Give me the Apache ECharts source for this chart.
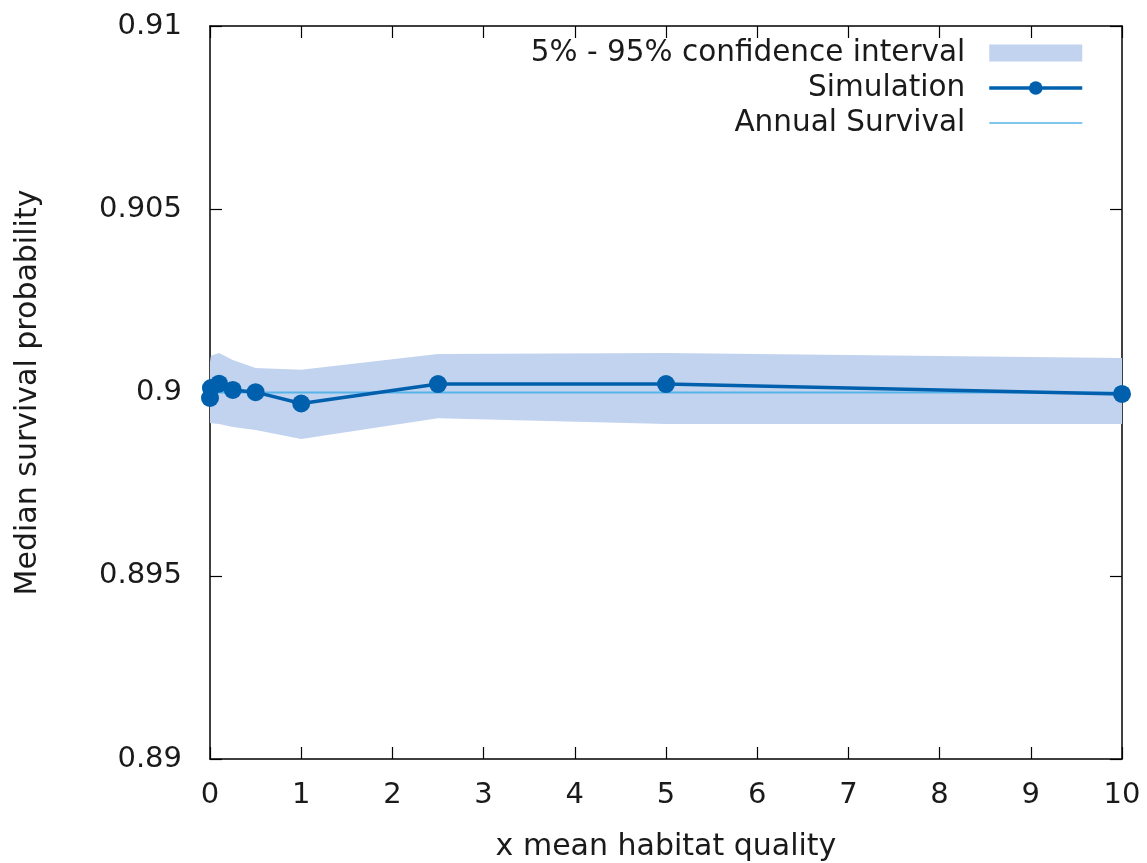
<!DOCTYPE html>
<html>
<head>
<meta charset="utf-8">
<script src="https://cdn.jsdelivr.net/npm/echarts@6/dist/echarts.min.js"></script>
<style>
  html, body { margin: 0; padding: 0; background: #fff; }
  #main { width: 1147px; height: 863px; }
</style>
</head>
<body>
<div id="main"></div>
<script>
// x mean habitat quality
const xValues = [0, 0.01, 0.1, 0.25, 0.5, 1, 2.5, 5, 10];
// median survival (Simulation)
const simValues = [0.89985, 0.90012, 0.90024, 0.90007, 0.90001, 0.89970, 0.90023, 0.90023, 0.89996];
// 5% - 95% confidence interval
const bandLow = [0.89917, 0.89916, 0.89914, 0.89906, 0.89898, 0.89873, 0.89930, 0.89914, 0.89914];
const bandHigh = [0.90083, 0.90100, 0.90108, 0.90089, 0.90067, 0.90062, 0.90105, 0.90108, 0.90094];
// annual survival reference
const annualX = [0, 10];
const annualValue = 0.9;

const xTicks = [0, 1, 2, 3, 4, 5, 6, 7, 8, 9, 10];

const FONT = 'DejaVu Sans';
const cText = '#1a1a1a';
const cBand = '#c2d3ef';
const cSim = '#0060ad';
const cAnnual = '#56b4e9';

const myChart = echarts.init(document.getElementById('main'));

const axisCommon = {
    axisLine: { show: true, onZero: false, lineStyle: { color: '#000', width: 1.5 } },
    axisTick: { show: true, inside: true, length: 12, lineStyle: { color: '#000', width: 1.2 } },
    splitLine: { show: false },
};

const option = {
    animation: false,
    backgroundColor: '#fff',
    textStyle: { fontFamily: FONT },
    grid: { left: 210, right: 25, top: 26, bottom: 104, containLabel: false, outerBoundsMode: 'none' },
    legend: {
        orient: 'vertical',
        right: 58,
        top: 33,
        align: 'right',
        itemWidth: 93,
        itemHeight: 17,
        itemGap: 5,
        textStyle: { fontFamily: FONT, fontSize: 29.5, color: cText, padding: [0, 19, 0, 0] },
        data: [
            { name: '5% - 95% confidence interval', icon: 'rect' },
            { name: 'Simulation', lineStyle: { width: 3.5 } },
            { name: 'Annual Survival', itemStyle: { color: 'rgba(0,0,0,0)', borderWidth: 0 }, lineStyle: { width: 1.5 } },
        ],
    },
    xAxis: [{
        ...axisCommon,
        type: 'value',
        min: 0,
        max: 10,
        interval: 1,
        name: 'x mean habitat quality',
        nameLocation: 'middle',
        nameGap: 73,
        nameTextStyle: { fontFamily: FONT, fontSize: 30, color: cText, verticalAlign: 'top' },
        axisLabel: {
            fontFamily: FONT, fontSize: 29, color: cText, margin: 22,
            customValues: xTicks,
        },
    }, {
        ...axisCommon,
        type: 'value',
        position: 'top',
        min: 0,
        max: 10,
        interval: 1,
        axisLabel: { show: false },
    }],
    yAxis: [{
        ...axisCommon,
        type: 'value',
        min: 0.89,
        max: 0.91,
        interval: 0.005,
        name: 'Median survival probability',
        nameLocation: 'middle',
        nameGap: 167,
        nameTextStyle: { fontFamily: FONT, fontSize: 30, color: cText },
        axisLabel: {
            fontFamily: FONT, fontSize: 29, color: cText, margin: 28,
            padding: [0, 0, 7, 0],
            formatter: v => String(+v.toFixed(3)),
        },
    }, {
        ...axisCommon,
        type: 'value',
        position: 'right',
        min: 0.89,
        max: 0.91,
        interval: 0.005,
        axisLabel: { show: false },
    }],
    series: [
        {
            name: '5% - 95% confidence interval',
            type: 'custom',
            z: 1,
            itemStyle: { color: cBand },
            data: xValues.map((x, i) => [x, bandLow[i], bandHigh[i]]),
            renderItem: (params, api) => {
                if (params.dataIndex !== 0) return null;
                const top = xValues.map((x, i) => api.coord([x, bandHigh[i]]));
                const bot = xValues.map((x, i) => api.coord([x, bandLow[i]])).reverse();
                return {
                    type: 'polygon',
                    shape: { points: top.concat(bot) },
                    style: { fill: cBand },
                };
            },
        },
        {
            name: 'Annual Survival',
            type: 'line',
            z: 3,
            showSymbol: false,
            symbol: 'none',
            lineStyle: { color: cAnnual, width: 2 },
            itemStyle: { color: cAnnual },
            data: annualX.map(x => [x, annualValue]),
        },
        {
            name: 'Simulation',
            type: 'line',
            z: 4,
            symbol: 'circle',
            symbolSize: 18,
            lineStyle: { color: cSim, width: 3.5 },
            itemStyle: { color: cSim },
            data: xValues.map((x, i) => [x, simValues[i]]),
        },
    ],
};

myChart.setOption(option);
</script>
</body>
</html>
